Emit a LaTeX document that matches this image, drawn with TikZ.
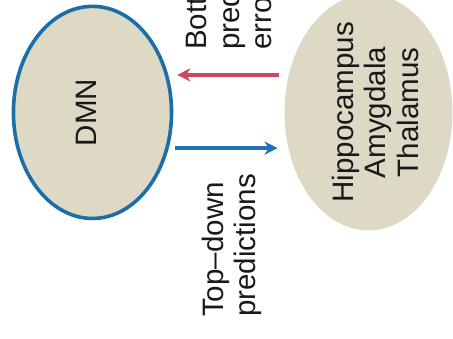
\documentclass[tikz,border=0pt]{standalone}
\usepackage{fontspec}
\setmainfont{Liberation Sans}
\usetikzlibrary{shapes.geometric,arrows.meta}
\definecolor{dmnBlue}{RGB}{28,110,168}
\definecolor{predBlue}{RGB}{30,115,185}
\definecolor{errorRed}{RGB}{205,72,88}
\definecolor{regionBeige}{RGB}{221,217,197}

\begin{document}
\begin{tikzpicture}
    % Styles
    \tikzstyle{network} = [ellipse, draw=dmnBlue, line width=0.12cm, fill=regionBeige, minimum width=5.27cm, minimum height=7.07cm]
    \tikzstyle{region} = [ellipse, fill=regionBeige, minimum width=5.6cm, minimum height=7.87cm]
    \tikzstyle{lbl} = [rotate=90, inner sep=0pt, font=\fontsize{28}{31}\selectfont, text=black!90]
    \tikzstyle{arrow} = [-{Stealth[length=0.44cm, width=0.44cm]}, line width=0.12cm]

    \useasboundingbox (0,0) rectangle (15.1,11.267);
    \clip (0,0) rectangle (15.1,11.267);

    % Nodes - explicit coordinates
    \node[network] (dmn) at (3.083, 7.52) {};
    \node[region] (hip) at (12.283, 7.52) {};
    \node[lbl] (dmntext) at ([xshift=-0.2cm]dmn.center) {DMN};
    \node[lbl, align=center] (hiptext) at ([xshift=0.23cm]hip.center) {Hippocampus\\Amygdala\\Thalamus};
    \node[lbl, align=left, anchor=north west] (bottomup) at (6.2, 9.6) {Bottom–up\\prediction\\errors};
    \node[lbl, align=left, anchor=north west] (topdown) at (6.72, 0.7) {Top–down\\predictions};

    % Arrows
    \draw[arrow, errorRed, shorten <=0.17cm, shorten >=0.13cm] ([yshift=1.25cm]hip.west) -- ([yshift=1.25cm]dmn.east);
    \draw[arrow, predBlue, shorten <=0.07cm, shorten >=0.22cm] ([yshift=-1.19cm]dmn.east) -- ([yshift=-1.19cm]hip.west);
\end{tikzpicture}
\end{document}
